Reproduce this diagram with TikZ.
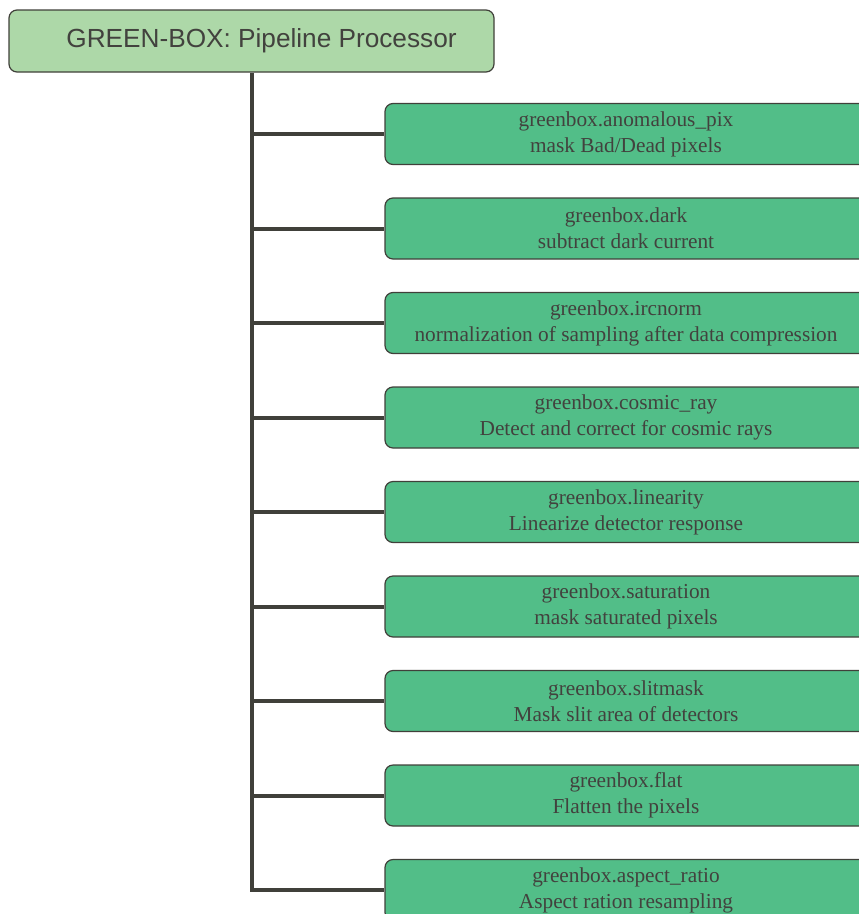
\documentclass[tikz,border=0pt]{standalone}
\usepackage{fontspec}
\setmainfont{Liberation Serif}
\newfontfamily\titlefont{Liberation Sans}
\definecolor{titlefill}{RGB}{173,216,168}
\definecolor{boxfill}{RGB}{82,190,136}
\definecolor{edge}{RGB}{64,64,58}
\definecolor{txt}{RGB}{66,66,62}
\begin{document}
\begin{tikzpicture}[x=1pt,y=-1pt,
  titlebox/.style={draw=edge,line width=1.2pt,fill=titlefill,rounded corners=8pt,
    minimum width=485pt,minimum height=62pt,inner sep=0pt,
    font=\titlefont\fontsize{26.2}{28}\selectfont,text=txt},
  stepbox/.style={draw=edge,line width=1.2pt,fill=boxfill,rounded corners=8pt,
    minimum width=482pt,minimum height=61pt,inner sep=0pt,align=center,
    font=\fontsize{21.3}{26}\selectfont,text=txt},
  trunk/.style={draw=edge,line width=4pt}]
\useasboundingbox (0,0) rectangle (859,914);
\node[titlebox] (title) at (251.5,41) {\hspace*{20pt}GREEN-BOX: Pipeline Processor};
\node[stepbox] (b1) at (626,134) {greenbox.anomalous\_pix\\mask Bad/Dead pixels};
\node[stepbox] (b2) at (626,228.5) {greenbox.dark\\subtract dark current};
\node[stepbox] (b3) at (626,323) {greenbox.ircnorm\\normalization of sampling after data compression};
\node[stepbox] (b4) at (626,417.5) {greenbox.cosmic\_ray\\Detect and correct for cosmic rays};
\node[stepbox] (b5) at (626,512) {greenbox.linearity\\Linearize detector response};
\node[stepbox] (b6) at (626,606.5) {greenbox.saturation\\mask saturated pixels};
\node[stepbox] (b7) at (626,701) {greenbox.slitmask\\Mask slit area of detectors};
\node[stepbox] (b8) at (626,795.5) {greenbox.flat\\Flatten the pixels};
\node[stepbox] (b9) at (626,890) {greenbox.aspect\_ratio\\Aspect ration resampling};
\draw[trunk] (title.south) -- (title.south |- b9.west) -- (b9.west);
\foreach \i in {1,...,8} {
  \draw[trunk] (title.south |- b\i.west) -- (b\i.west);
}
\end{tikzpicture}
\end{document}
